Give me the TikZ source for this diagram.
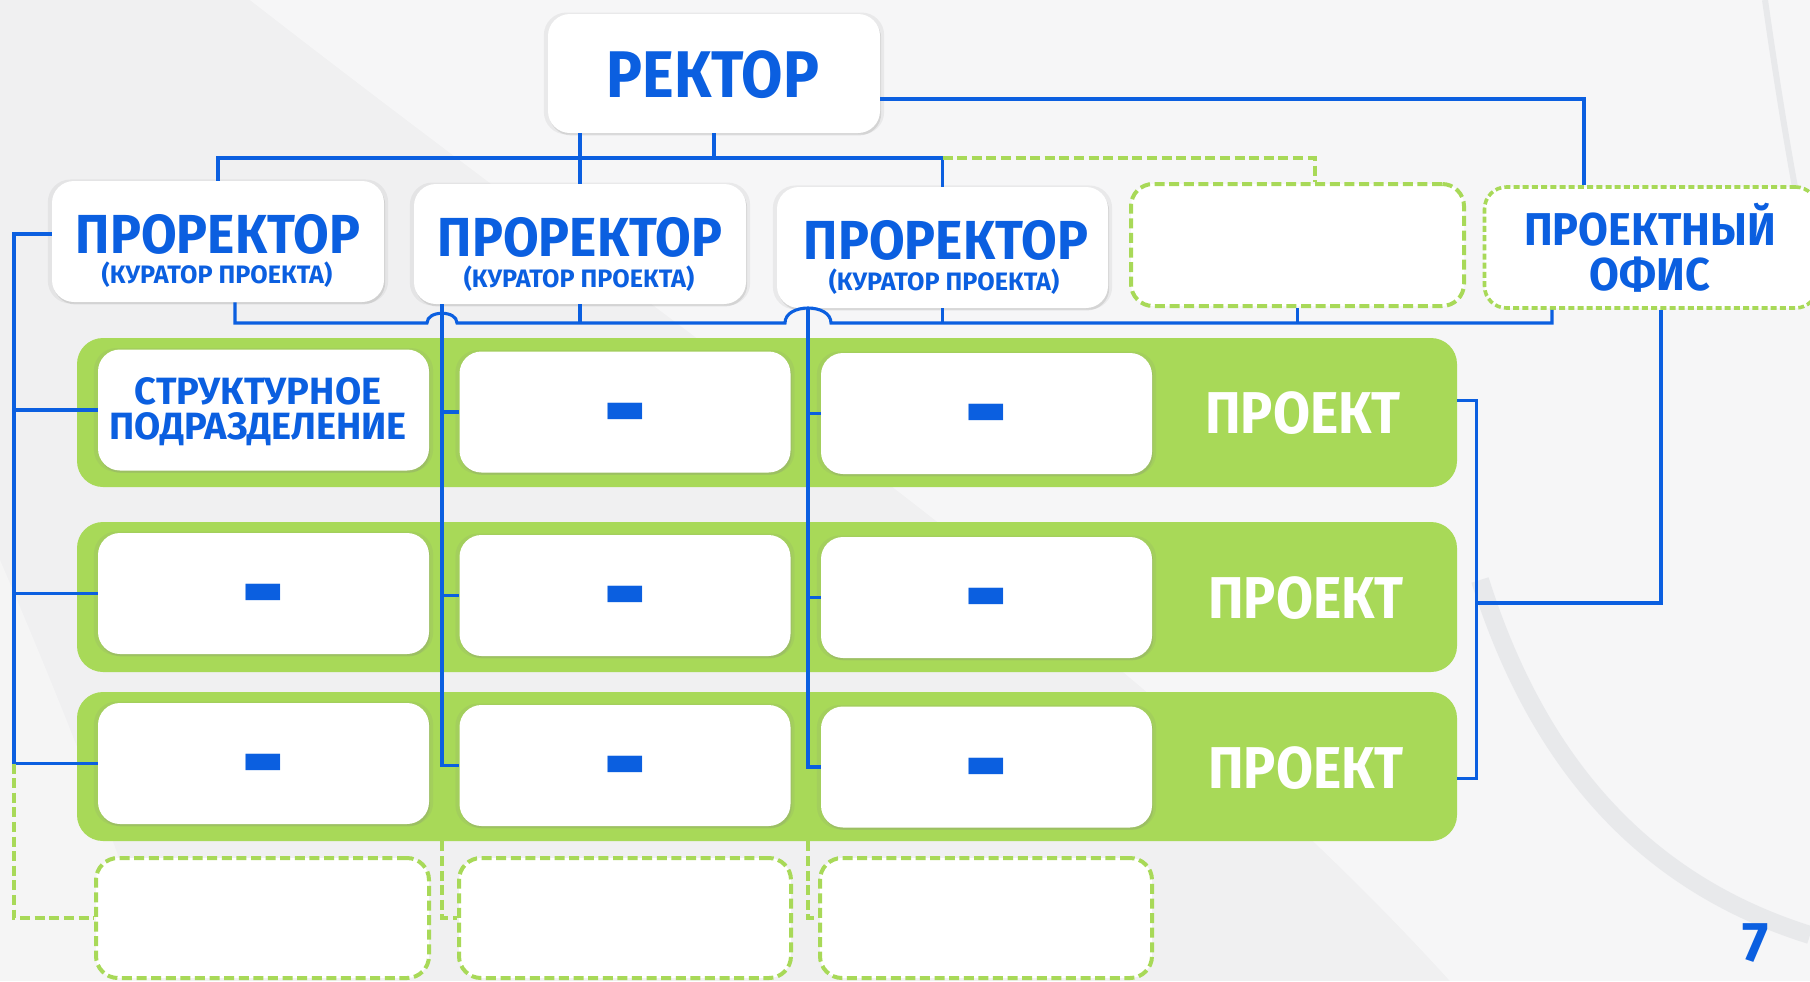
\documentclass[tikz,border=0pt]{standalone}
\usepackage{fontspec}
\setmainfont{Fira Sans}
\usetikzlibrary{shadows,calc}
\definecolor{cblue}{HTML}{0B5FE0}
\definecolor{cgreen}{HTML}{A8D958}
\definecolor{bgc}{HTML}{F0F0F1}
\definecolor{band}{HTML}{E8E9EB}
\newcommand\hsq[2]{\scalebox{#1}[1]{#2}}
\tikzset{
  sz/.style 2 args={minimum width=#1*0.5pt,minimum height=#2*0.5pt},
  wbox/.style={fill=white,rounded corners=11pt,inner sep=0pt,
    drop shadow={opacity=0.10,shadow xshift=0pt,shadow yshift=0pt,shadow scale=1.025},
    drop shadow={opacity=0.20,shadow xshift=0.6pt,shadow yshift=-1.2pt}},
  gbox/.style={fill=white,rounded corners=11pt,inner sep=0pt,draw=cgreen,line width=2pt,dash pattern=on 5pt off 2.3pt},
  obox/.style={fill=white,rounded corners=11pt,inner sep=0pt,draw=cgreen,line width=1.8pt,dash pattern=on 3pt off 1.6pt},
  bar/.style={fill=cgreen,rounded corners=13pt,inner sep=0pt},
  conn/.style={draw=cblue,line width=1.55pt},
  gconn/.style={draw=cgreen,line width=2pt,dash pattern=on 5pt off 2.3pt},
  tx/.style={anchor=base,inner sep=0pt,text=cblue},
  tR/.style={tx,font=\bfseries\fontsize{33}{33}\selectfont},
  tPR/.style={tx,font=\bfseries\fontsize{27.5}{27.5}\selectfont},
  tSub/.style={tx,font=\bfseries\fontsize{12.6}{12.6}\selectfont},
  tOff/.style={tx,font=\bfseries\fontsize{23}{23}\selectfont},
  tSD/.style={tx,font=\bfseries\fontsize{19}{19}\selectfont},
  tPJ/.style={tx,text=white,font=\bfseries\fontsize{29.5}{29.5}\selectfont},
  tDash/.style={tx,font=\bfseries\fontsize{32}{32}\selectfont},
  t7/.style={tx,font=\bfseries\fontsize{28}{28}\selectfont}
}
\begin{document}
\begin{tikzpicture}[x=0.5pt,y=-0.5pt]
\useasboundingbox (0,0) rectangle (1810,981);
% background
\fill[bgc] (0,0) rectangle (1810,981);
\fill[white,opacity=0.45] (250,0) .. controls (700,350) and (1150,650) .. (1450,981) -- (1810,981) -- (1810,0) -- cycle;
\fill[white,opacity=0.35] (0,560) .. controls (60,700) and (120,850) .. (160,981) -- (0,981) -- cycle;
\draw[band,line width=9pt] (1480,580) .. controls (1540,770) and (1650,885) .. (1810,935);
\draw[band,line width=3pt] (1765,0) .. controls (1782,120) and (1800,220) .. (1810,260);

% top level boxes
\node[wbox,sz={332}{119}] (rector) at (714,73.5) {};
\node[wbox,sz={332}{121}] (pr1) at (218,241.5) {};
\node[wbox,sz={332}{120}] (pr2) at (580,244) {};
\node[wbox,sz={331}{121}] (pr3) at (942.5,247.5) {};
\node[gbox,sz={333}{122}] (d4) at (1297.5,245) {};
\node[obox,sz={333}{121}] (office) at (1651,247.5) {};

% project bars
\node[bar,sz={1380}{149}] (row1) at (767,412.5) {};
\node[bar,sz={1380}{150}] (row2) at (767,597) {};
\node[bar,sz={1380}{149}] (row3) at (767,766.5) {};

% unit boxes
\node[wbox,sz={331}{121}] (r1c1) at (263.5,410) {};
\node[wbox,sz={331}{121}] (r1c2) at (625,412) {};
\node[wbox,sz={331}{121}] (r1c3) at (986.5,413.5) {};
\node[wbox,sz={331}{121}] (r2c1) at (263.5,593.5) {};
\node[wbox,sz={331}{121}] (r2c2) at (625,595.5) {};
\node[wbox,sz={331}{121}] (r2c3) at (986.5,597.5) {};
\node[wbox,sz={331}{121}] (r3c1) at (263.5,763.5) {};
\node[wbox,sz={331}{121}] (r3c2) at (625,765.5) {};
\node[wbox,sz={331}{121}] (r3c3) at (986.5,767) {};

% empty dashed boxes below
\node[gbox,sz={333}{120}] (b1) at (262.5,918) {};
\node[gbox,sz={332}{120}] (b2) at (625,918) {};
\node[gbox,sz={332}{120}] (b3) at (986,918) {};

% texts
\node[tR] (tRector) at (713,97) {\hsq{0.91}{РЕКТОР}};
\node[tPR] (tP1) at (218,253) {\hsq{0.94}{ПРОРЕКТОР}};
\node[tSub] (tS1) at (217,283) {(КУРАТОР ПРОЕКТА)};
\node[tPR] (tP2) at (580,256) {\hsq{0.94}{ПРОРЕКТОР}};
\node[tSub] (tS2) at (579,287) {(КУРАТОР ПРОЕКТА)};
\node[tPR] (tP3) at (946,259) {\hsq{0.94}{ПРОРЕКТОР}};
\node[tSub] (tS3) at (944,290) {(КУРАТОР ПРОЕКТА)};
\node[tOff] (tO1) at (1650,245) {\hsq{0.94}{ПРОЕКТНЫЙ}};
\node[tOff] (tO2) at (1650,290) {\hsq{0.94}{ОФИС}};
\node[tSD] (tU1) at (258,404) {СТРУКТУРНОЕ};
\node[tSD] (tU2) at (258,439) {ПОДРАЗДЕЛЕНИЕ};
\node[tPJ] (tJ1) at (1303,433) {\hsq{0.91}{ПРОЕКТ}};
\node[tPJ] (tJ2) at (1306,618) {\hsq{0.91}{ПРОЕКТ}};
\node[tPJ] (tJ3) at (1306,788) {\hsq{0.91}{ПРОЕКТ}};
\foreach \b in {r1c2,r1c3,r2c1,r2c2,r2c3,r3c1,r3c2,r3c3}{
  \node[tDash] (dash-\b) at ($(\b.center)+(0,41)$) {\scalebox{1.13}[2.1]{–}};
}
\node[t7] (tSeven) at (1756,961) {7};

% connectors
\coordinate (tb) at (0,158);
\coordinate (bb) at (0,323);
\coordinate (ob) at (0,99);
\coordinate (lx) at (14,0);
\coordinate (d4t) at ([xshift=8.5pt]d4.north);
\coordinate (offt) at ([xshift=-33.5pt]office.north);
\coordinate (offb) at ([xshift=-49.5pt]office.south);
\coordinate (offr) at ([xshift=5pt]office.south);
\coordinate (p1b) at ([xshift=8.5pt]pr1.south);
\coordinate (v2) at ([xshift=-69pt]pr2.south);
\coordinate (v3) at ([xshift=-67.25pt]pr3.south);

\draw[conn] (rector.south) -- (rector.south |- tb);
\draw[conn] (pr2.north |- rector.south) -- (pr2.north);
\draw[conn] (pr1.north) -- (pr1.north |- tb) -- (pr3.north |- tb) -- (pr3.north);
\draw[gconn] (pr3.north |- tb) -- (d4t |- tb) -- (d4t);
\draw[conn] (rector.east |- ob) -| (offt);

\draw[conn] (p1b) -- (p1b |- bb) -- ($(v2 |- bb)+(-15,0)$)
  .. controls +(0,-13) and +(0,-13) .. ($(v2 |- bb)+(15,0)$)
  -- ($(v3 |- bb)+(-23,0)$)
  .. controls +(0,-20) and +(0,-20) .. ($(v3 |- bb)+(23,0)$)
  -- (offb |- bb) -- (offb);
\draw[conn] (pr2.south) -- (pr2.south |- bb);
\draw[conn] (pr3.south) -- (pr3.south |- bb);
\draw[conn] (d4.south) -- (d4.south |- bb);

% left column line
\draw[conn] ([yshift=3.75pt]pr1.west) -| (lx |- r3c1.west) -- (r3c1.west);
\draw[conn] (lx |- r1c1.west) -- (r1c1.west);
\draw[conn] (lx |- r2c1.west) -- (r2c1.west);
\draw[gconn] (lx |- r3c1.west) -- (lx |- b1.west) -- (b1.west);
% second column line
\draw[conn] (v2) -- (v2 |- r3c2.west) -- (r3c2.west);
\draw[conn] (v2 |- r1c2.west) -- (r1c2.west);
\draw[conn] (v2 |- r2c2.west) -- (r2c2.west);
\draw[gconn] (v2 |- row3.south) -- (v2 |- b2.west) -- (b2.west);
% third column line
\draw[conn] (v3) -- (v3 |- r3c3.west) -- (r3c3.west);
\draw[conn] (v3 |- r1c3.west) -- (r1c3.west);
\draw[conn] (v3 |- r2c3.west) -- (r2c3.west);
\draw[gconn] (v3 |- row3.south) -- (v3 |- b3.west) -- (b3.west);

% project office to projects
\coordinate (brm) at ($(row2.east)+(19,6)$);
\draw[conn] (offr) |- (brm);
\draw[conn] ($(row1.east)+(0,-12)$) -- ++(19,0) -- ($(row3.east)+(19,12)$) -- ($(row3.east)+(0,12)$);
\end{tikzpicture}
\end{document}
